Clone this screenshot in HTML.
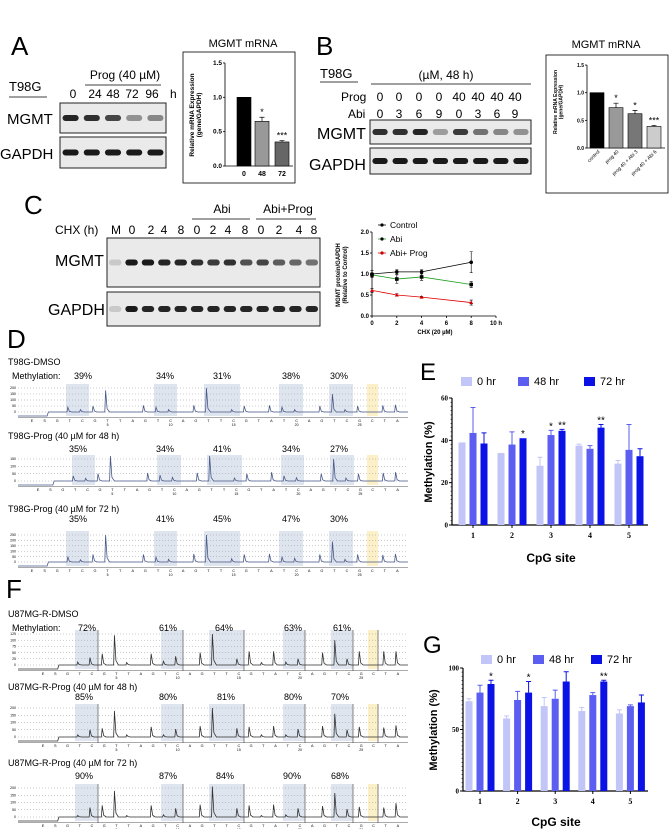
<!DOCTYPE html>
<html><head><meta charset="utf-8">
<style>
html,body{margin:0;padding:0;background:#fff;}
svg{display:block;font-family:"Liberation Sans",sans-serif;}
</style></head>
<body>
<svg id="fig" width="669" height="829" viewBox="0 0 669 829" xmlns="http://www.w3.org/2000/svg">
<!-- Panel A -->
<text x="11" y="55" font-size="26">A</text>
<text x="9" y="91" font-size="13">T98G</text>
<line x1="9" y1="97" x2="47" y2="97" stroke="#000" stroke-width="0.8"/>
<text x="125" y="79" font-size="12" text-anchor="middle">Prog (40 µM)</text>
<line x1="85" y1="85" x2="161" y2="85" stroke="#000" stroke-width="0.8"/>
<text x="73" y="98" font-size="12" text-anchor="middle">0</text>
<text x="95" y="98" font-size="12" text-anchor="middle">24</text>
<text x="113" y="98" font-size="12" text-anchor="middle">48</text>
<text x="132" y="98" font-size="12" text-anchor="middle">72</text>
<text x="152" y="98" font-size="12" text-anchor="middle">96</text>
<text x="170" y="98" font-size="12">h</text>
<text x="7" y="124" font-size="15">MGMT</text>
<text x="0" y="159" font-size="15">GAPDH</text>
<g id="blotA"></g>
<rect x="183" y="52" width="112" height="131" fill="none" stroke="#000" stroke-width="0.8"/>
<text x="243" y="47" font-size="11" text-anchor="middle">MGMT mRNA</text>
<text transform="translate(194,115) rotate(-90)" font-size="6.5" font-weight="bold" text-anchor="middle"><tspan x="0" dy="0">Relative mRNA Expression</tspan><tspan x="0" dy="7">(gene/GAPDH)</tspan></text>
<g id="chartA"></g>
<!-- Panel B -->
<text x="316" y="55" font-size="26">B</text>
<text x="320" y="78" font-size="13">T98G</text>
<line x1="320" y1="82" x2="358" y2="82" stroke="#000" stroke-width="0.8"/>
<text x="446" y="79" font-size="12" text-anchor="middle">(µM, 48 h)</text>
<line x1="371" y1="84" x2="531" y2="84" stroke="#000" stroke-width="0.8"/>
<text x="341" y="101" font-size="12">Prog</text>
<text x="348" y="118" font-size="12">Abi</text>
<g id="laneB"></g>
<text x="317" y="139" font-size="16">MGMT</text>
<text x="309" y="170" font-size="16">GAPDH</text>
<g id="blotB"></g>
<rect x="546" y="55" width="122" height="138" fill="none" stroke="#000" stroke-width="0.8"/>
<text x="606" y="48" font-size="11" text-anchor="middle">MGMT mRNA</text>
<text transform="translate(557,102) rotate(-90)" font-size="5" font-weight="bold" text-anchor="middle"><tspan x="0" dy="0">Relative mRNA Expression</tspan><tspan x="0" dy="5.5">(gene/GAPDH)</tspan></text>
<g id="chartB"></g>
<!-- Panel C -->
<text x="24" y="214" font-size="26">C</text>
<text x="222" y="213" font-size="12" text-anchor="middle">Abi</text>
<line x1="192" y1="219" x2="250" y2="219" stroke="#000" stroke-width="0.8"/>
<text x="288" y="213" font-size="12" text-anchor="middle">Abi+Prog</text>
<line x1="256" y1="219" x2="316" y2="219" stroke="#000" stroke-width="0.8"/>
<text x="55" y="234" font-size="12">CHX (h)</text>
<g id="laneC"></g>
<text x="55" y="266" font-size="16">MGMT</text>
<text x="48" y="315" font-size="16">GAPDH</text>
<g id="blotC"></g>
<g id="chartC"></g>
<text transform="translate(340,275) rotate(-90)" font-size="6" font-weight="bold" text-anchor="middle"><tspan x="0" dy="0">MGMT protein/GAPDH</tspan><tspan x="0" dy="7">(Relative to Control)</tspan></text>
<text x="435" y="334" font-size="6" font-weight="bold" text-anchor="middle">CHX (20 µM)</text>
<!-- Panel D / F -->
<text x="7" y="348" font-size="26">D</text>
<text x="6" y="598" font-size="26">F</text>
<g id="pyro"></g>
<!-- Panel E -->
<text x="420" y="380" font-size="24">E</text>
<g id="chartE"></g>
<text transform="translate(432,462) rotate(-90)" font-size="11" font-weight="bold" text-anchor="middle">Methylation (%)</text>
<text x="551" y="562" font-size="12" font-weight="bold" text-anchor="middle">CpG site</text>
<!-- Panel G -->
<text x="423" y="653" font-size="24">G</text>
<g id="chartG"></g>
<text transform="translate(437,730) rotate(-90)" font-size="11" font-weight="bold" text-anchor="middle">Methylation (%)</text>
<text x="556" y="826" font-size="12" font-weight="bold" text-anchor="middle">CpG site</text>
</svg>
<script>
// ---------- data ----------
var aCats = ['0','48','72'];
var aVals = [1.0, 0.65, 0.35];
var aErr = [0, 0.06, 0.02];
var aStars = ['', '*', '***'];
var aTicks = [0, 0.5, 1.0, 1.5];
var bCats = ['control','prog 40','prog 40 + Abi 3','prog 40 + Abi 6'];
var bVals = [1.0, 0.73, 0.62, 0.39];
var bErr = [0, 0.08, 0.06, 0.02];
var bStars = ['', '*', '*', '***'];
var bTicks = [0, 0.5, 1.0, 1.5];
var bProg = ['0','0','0','0','40','40','40','40'];
var bAbi = ['0','3','6','9','0','3','6','9'];
var cLanes = ['M','0','2','4','8','0','2','4','8','0','2','4','8'];
var cTimes = [0, 2, 4, 8];
var cControl = [1.0, 1.05, 1.05, 1.28];
var cControlErr = [0.08, 0.05, 0.05, 0.25];
var cAbi = [0.98, 0.88, 0.93, 0.75];
var cAbiErr = [0.05, 0.1, 0.08, 0.07];
var cAbiProg = [0.61, 0.5, 0.45, 0.32];
var cAbiProgErr = [0.05, 0.03, 0.02, 0.06];
var cXTicks = [0, 2, 4, 6, 8, 10];
var cYTicks = [0, 0.5, 1.0, 1.5, 2.0];
var eCats = ['1','2','3','4','5'];
var e0 = [39, 34, 28, 37.5, 29];
var e48 = [43.5, 38, 42.5, 36, 35.5];
var e72 = [38.5, 41, 44.5, 46, 32.5];
var e0Err = [0, 0, 4, 0.7, 1.5];
var e48Err = [12, 6, 2.2, 1.5, 12];
var e72Err = [5, 0, 0.7, 1.5, 3.5];
var eStars48 = ['', '', '*', '', ''];
var eStars72 = ['', '*', '**', '**', ''];
var eTicks = [0, 20, 40, 60];
var g0 = [73, 59, 69, 65, 63];
var g48 = [80, 74, 75, 78, 69];
var g72 = [87, 80, 89, 89, 72];
var g0Err = [2, 2, 7, 3, 3];
var g48Err = [6, 7, 7, 2, 1];
var g72Err = [3, 9, 8, 1, 6];
var gStars72 = ['*', '*', '', '**', ''];
var gTicks = [0, 50, 100];
var seq = ['E','S','G','T','C','G','T','T','A','G','T','C','A','G','T','T','C','G','T','A','T','C','A','G','T','C','G','C','T','A'];
var hD1 = [0,0,0,40,20,50,180,0,0,55,40,20,0,55,200,0,20,50,0,55,40,20,0,50,150,20,50,0,55,60];
var hD2 = [0,0,0,35,18,50,170,0,0,55,40,25,0,55,170,0,20,50,0,60,35,22,0,50,150,20,50,0,55,60];
var hD3 = [0,0,0,50,20,70,250,0,0,70,45,25,0,75,250,0,30,70,0,75,45,35,0,70,190,25,70,0,65,75];
var hF1 = [0,0,0,12,30,45,120,10,0,45,15,35,0,50,125,0,25,55,10,55,12,25,0,50,100,25,55,0,55,55];
var hF2 = [0,0,0,15,50,60,180,15,0,70,15,55,0,75,200,0,60,70,15,75,15,55,0,75,160,50,70,0,65,80];
var hF3 = [0,0,0,10,65,80,180,10,0,80,15,60,0,85,210,0,60,80,10,85,15,60,0,75,165,55,70,0,65,95];
var pD1 = ['39%','34%','31%','38%','30%'];
var pD2 = ['35%','34%','41%','34%','27%'];
var pD3 = ['35%','41%','45%','47%','30%'];
var pF1 = ['72%','61%','64%','63%','61%'];
var pF2 = ['85%','80%','81%','80%','70%'];
var pF3 = ['90%','87%','84%','90%','68%'];

var NS = 'http://www.w3.org/2000/svg';
function mk(parent, tag, attrs, txt) {
  var el = document.createElementNS(NS, tag);
  for (var k in attrs) el.setAttribute(k, attrs[k]);
  if (txt !== undefined) el.textContent = txt;
  parent.appendChild(el);
  return el;
}
function G(id) { return document.getElementById(id); }

// ---------- blots ----------
function blot(g, x, y, w, h, n, intens, nameBase) {
  var r = mk(g, 'rect', {x: x, y: y, width: w, height: h, fill: '#eaeaea', stroke: '#222', 'stroke-width': 1});
  
  
  var step = w / n;
  for (var i = 0; i < n; i++) {
    if (intens[i] <= 0) continue;
    var b = mk(g, 'rect', {x: x + step * i + step * 0.12, y: y + h / 2 - 3, width: step * 0.76, height: 6, rx: 3,
      fill: 'rgba(15,15,15,' + intens[i] + ')'});
    
    
  }
}
blot(G('blotA'), 60, 103, 106, 30, 5, [0.9, 0.85, 0.75, 0.4, 0.45], 'a-mgmt');
blot(G('blotA'), 60, 137, 106, 31, 5, [0.95, 0.95, 0.95, 0.95, 0.95], 'a-gapdh');
blot(G('blotB'), 370, 120, 161, 24, 8, [0.85, 0.85, 0.9, 0.35, 0.8, 0.55, 0.45, 0.4], 'b-mgmt');
blot(G('blotB'), 370, 148, 161, 26, 8, [0.95, 0.95, 0.95, 0.95, 0.95, 0.95, 0.95, 0.95], 'b-gapdh');
blot(G('blotC'), 107, 238, 213, 49, 13, [0.15, 0.95, 0.95, 0.9, 0.9, 0.85, 0.8, 0.85, 0.7, 0.75, 0.65, 0.6, 0.55], 'c-mgmt');
blot(G('blotC'), 107, 292, 213, 34, 13, [0.15, 0.95, 0.9, 0.9, 0.9, 0.9, 0.9, 0.9, 0.9, 0.9, 0.9, 0.9, 0.9], 'c-gapdh');

var lbx = [380, 399, 419, 439, 459, 478, 497, 515];
for (var i = 0; i < bProg.length; i++) {
  var t1 = mk(G('laneB'), 'text', {x: lbx[i], y: 101, 'font-size': 12, 'text-anchor': 'middle'}, bProg[i]);
  
  
  var t2 = mk(G('laneB'), 'text', {x: lbx[i], y: 118, 'font-size': 12, 'text-anchor': 'middle'}, bAbi[i]);
  
  
}
var lcx = [116, 132, 151, 164, 181, 197, 213, 228, 245, 261, 279, 299, 314];
for (var i = 0; i < cLanes.length; i++) {
  var t = mk(G('laneC'), 'text', {x: lcx[i], y: 234, 'font-size': 12, 'text-anchor': 'middle'}, cLanes[i]);
  
  
}

// ---------- small bar charts A / B ----------
function smallBar(g, ax, y0, ppu, xs, bw, vals, errs, stars, ticks, cols, cats, rotate, tickFs) {
  var top = y0 - ticks[ticks.length - 1] * ppu;
  var a = mk(g, 'path', {d: 'M' + ax + ' ' + top + 'V' + y0 + 'H' + (xs[xs.length - 1] + bw + 4), stroke: '#000', fill: 'none', 'stroke-width': 0.8});
  
  
  for (var i = 0; i < ticks.length; i++) {
    var ty = y0 - ticks[i] * ppu;
    var tl = mk(g, 'line', {x1: ax - 2, x2: ax, y1: ty, y2: ty, stroke: '#000', 'stroke-width': 0.8});
    
    
    var tt = mk(g, 'text', {x: ax - 3, y: ty + 2, 'font-size': tickFs, 'text-anchor': 'end', 'font-weight': 'bold'}, ticks[i].toFixed(1));
    
    
  }
  for (var i = 0; i < vals.length; i++) {
    var by = y0 - vals[i] * ppu;
    var r = mk(g, 'rect', {x: xs[i], y: by, width: bw, height: vals[i] * ppu, fill: cols[i], stroke: '#000', 'stroke-width': 0.6});
    
    
    if (errs[i] > 0) {
      var cx = xs[i] + bw / 2, ey = y0 - (vals[i] + errs[i]) * ppu;
      var e = mk(g, 'path', {d: 'M' + cx + ' ' + by + 'V' + ey + 'M' + (cx - 2.5) + ' ' + ey + 'H' + (cx + 2.5), stroke: '#000', 'stroke-width': 0.7});
      
      
    }
    if (stars[i]) {
      var s = mk(g, 'text', {x: xs[i] + bw / 2, y: y0 - (vals[i] + errs[i]) * ppu - 2, 'font-size': 9, 'text-anchor': 'middle'}, stars[i]);
      
      
    }
    var lx = xs[i] + bw / 2;
    var lab;
    if (rotate) {
      lab = mk(g, 'text', {transform: 'translate(' + (lx + 3) + ',' + (y0 + 4) + ') rotate(-45)', 'font-size': 5, 'text-anchor': 'end'}, cats[i]);
    } else {
      lab = mk(g, 'text', {x: lx, y: y0 + 10, 'font-size': 7, 'text-anchor': 'middle', 'font-weight': 'bold'}, cats[i]);
    }
    
    
  }
}
smallBar(G('chartA'), 225, 166, 68.7, [237, 255, 275], 14, aVals, aErr, aStars, aTicks, ['#000', '#999', '#666'], aCats, false, 6.5);
smallBar(G('chartB'), 587, 148, 55.3, [590, 609, 628, 647], 14, bVals, bErr, bStars, bTicks, ['#000', '#999', '#777', '#ccc'], bCats, true, 5);

// ---------- line chart C ----------
(function () {
  var g = G('chartC');
  function X(t) { return 372 + t * 12.4; }
  function Y(v) { return 316 - v * 42; }
  var ax = mk(g, 'path', {d: 'M372 ' + Y(2) + 'V316H' + X(10), stroke: '#000', fill: 'none', 'stroke-width': 0.8});
  
  
  for (var i = 0; i < cXTicks.length; i++) {
    var l = mk(g, 'line', {x1: X(cXTicks[i]), x2: X(cXTicks[i]), y1: 316, y2: 318, stroke: '#000', 'stroke-width': 0.8});
    
    
    var t = mk(g, 'text', {x: X(cXTicks[i]), y: 325, 'font-size': 6, 'font-weight': 'bold', 'text-anchor': 'middle'}, cXTicks[i] + (cXTicks[i] === 10 ? ' h' : ''));
    
    
  }
  for (var i = 0; i < cYTicks.length; i++) {
    var l = mk(g, 'line', {x1: 370, x2: 372, y1: Y(cYTicks[i]), y2: Y(cYTicks[i]), stroke: '#000', 'stroke-width': 0.8});
    
    
    var t = mk(g, 'text', {x: 369, y: Y(cYTicks[i]) + 2, 'font-size': 6, 'font-weight': 'bold', 'text-anchor': 'end'}, cYTicks[i].toFixed(1));
    
    
  }
  var series = [[cControl, cControlErr, '#000', 'circle', 'Control'], [cAbi, cAbiErr, '#1a9e1a', 'square', 'Abi'], [cAbiProg, cAbiProgErr, '#d00', 'triangle', 'Abi+ Prog']];
  series.forEach(function (s, si) {
    var d = '';
    for (var i = 0; i < cTimes.length; i++) d += (i ? 'L' : 'M') + X(cTimes[i]) + ' ' + Y(s[0][i]);
    var p = mk(g, 'path', {d: d, stroke: s[2], fill: 'none', 'stroke-width': 0.8});
    
    
    for (var i = 0; i < cTimes.length; i++) {
      var cx = X(cTimes[i]), cy = Y(s[0][i]), e = s[1][i] * 42;
      var eb = mk(g, 'path', {d: 'M' + cx + ' ' + (cy - e) + 'V' + (cy + e) + 'M' + (cx - 1.5) + ' ' + (cy - e) + 'H' + (cx + 1.5) + 'M' + (cx - 1.5) + ' ' + (cy + e) + 'H' + (cx + 1.5), stroke: '#000', 'stroke-width': 0.6});
      
      
      var m;
      if (s[3] === 'circle') m = mk(g, 'circle', {cx: cx, cy: cy, r: 1.8, fill: '#000'});
      else if (s[3] === 'square') m = mk(g, 'rect', {x: cx - 1.8, y: cy - 1.8, width: 3.6, height: 3.6, fill: '#000'});
      else m = mk(g, 'path', {d: 'M' + cx + ' ' + (cy - 2) + 'L' + (cx + 2) + ' ' + (cy + 1.5) + 'L' + (cx - 2) + ' ' + (cy + 1.5) + 'Z', fill: '#c00'});
      
      
    }
    var ly = 225 + si * 14;
    var ll = mk(g, 'line', {x1: 378, x2: 386, y1: ly, y2: ly, stroke: s[2], 'stroke-width': 0.8});
    
    
    var lm = mk(g, 'circle', {cx: 382, cy: ly, r: 1.6, fill: si === 2 ? '#c00' : '#000'});
    
    
    var lt = mk(g, 'text', {x: 390, y: ly + 3, 'font-size': 8.5}, s[4]);
    
    
  });
})();

// ---------- grouped bar charts E / G ----------
function grouped(g, ax, y0, ppu, xEnd, cx0, cstep, off, bw, sets, errs, ticks, stars, legendY, legendX) {
  var cols = ['#c2c5f7', '#5b5ef0', '#0b12e6'];
  var names = ['0 hr', '48 hr', '72 hr'];
  var top = y0 - ticks[ticks.length - 1] * ppu;
  var a = mk(g, 'path', {d: 'M' + ax + ' ' + top + 'V' + y0 + 'H' + xEnd, stroke: '#000', fill: 'none', 'stroke-width': 1.2});
  
  
  var tmax = ticks[ticks.length - 1];
  for (var v = 0; v <= tmax; v += tmax / 30) {
    var mt = mk(g, 'line', {x1: ax - 1.5, x2: ax, y1: y0 - v * ppu, y2: y0 - v * ppu, stroke: '#000', 'stroke-width': 0.6});
    
    
  }
  for (var i = 0; i < ticks.length; i++) {
    var ty = y0 - ticks[i] * ppu;
    var tl = mk(g, 'line', {x1: ax - 3, x2: ax, y1: ty, y2: ty, stroke: '#000', 'stroke-width': 1});
    
    
    var tt = mk(g, 'text', {x: ax - 4, y: ty + 2.5, 'font-size': 7, 'font-weight': 'bold', 'text-anchor': 'end', 'font-family': 'Liberation Serif, serif'}, ticks[i]);
    
    
  }
  for (var c = 0; c < eCats.length; c++) {
    var cx = cx0 + c * cstep;
    var xt = mk(g, 'line', {x1: cx, x2: cx, y1: y0, y2: y0 + 3, stroke: '#000', 'stroke-width': 1});
    
    
    var xl = mk(g, 'text', {x: cx, y: y0 + 13, 'font-size': 8, 'font-weight': 'bold', 'text-anchor': 'middle', 'font-family': 'Liberation Serif, serif'}, eCats[c]);
    
    
    for (var s = 0; s < 3; s++) {
      var bx = cx + (s - 1) * off - bw / 2, v = sets[s][c], by = y0 - v * ppu;
      var r = mk(g, 'rect', {x: bx, y: by, width: bw, height: v * ppu, fill: cols[s]});
      
      
      var e = errs[s][c];
      if (e > 0) {
        var ex = bx + bw / 2, ey = y0 - (v + e) * ppu;
        var eb = mk(g, 'path', {d: 'M' + ex + ' ' + by + 'V' + ey + 'M' + (ex - 2.5) + ' ' + ey + 'H' + (ex + 2.5), stroke: cols[s], 'stroke-width': 1});
        
        
      }
      if (stars[s] && stars[s][c]) {
        var st = mk(g, 'text', {x: bx + bw / 2, y: y0 - (v + e) * ppu - 1, 'font-size': 10, 'text-anchor': 'middle'}, stars[s][c]);
        
        
      }
    }
  }
  for (var s = 0; s < 3; s++) {
    var lx = legendX[s];
    var sw = mk(g, 'rect', {x: lx, y: legendY - 8, width: 11, height: 9, fill: cols[s]});
    
    
    var lt = mk(g, 'text', {x: lx + 16, y: legendY, 'font-size': 11}, names[s]);
    
    
  }
}
grouped(G('chartE'), 452, 525, 127 / 60, 648, 473, 39, 11, 7, [e0, e48, e72], [e0Err, e48Err, e72Err], eTicks, [null, eStars48, eStars72], 385, [461, 518, 584]);
grouped(G('chartG'), 463, 791, 123 / 100, 648, 480, 37.6, 11, 7, [g0, g48, g72], [g0Err, g48Err, g72Err], gTicks, [null, null, gStars72], 663, [481, 533, 591]);

// ---------- pyrograms ----------
function pyroRow(cfg) {
  var g = G('pyro');
  var t = mk(g, 'text', {x: 8, y: cfg.titleY, 'font-size': 9}, cfg.title);
  
  
  if (cfg.meth) {
    var m = mk(g, 'text', {x: 12, y: cfg.pctY, 'font-size': 9}, 'Methylation:');
    
    
  }
  cfg.shade.forEach(function (s, i) {
    var r = mk(g, 'rect', {x: s[0], y: cfg.topY - 4, width: s[1] - s[0], height: cfg.zeroY - cfg.topY + 8, fill: i === 5 ? '#fbf0c8' : '#dfe5ef'});
    
    
    if (cfg.bars) {
      var vl = mk(g, 'line', {x1: s[1], x2: s[1], y1: cfg.topY - 4, y2: cfg.zeroY + 6, stroke: '#666', 'stroke-width': 0.8});
      
      
    }
  });
  cfg.pcts.forEach(function (p, i) {
    var pt = mk(g, 'text', {x: cfg.pctX[i], y: cfg.pctY, 'font-size': 9, 'text-anchor': 'middle'}, p);
    
    
  });
  var ppu = (cfg.zeroY - cfg.topY) / cfg.max;
  for (var k = 0; k <= cfg.max; k += cfg.step) {
    var gy = cfg.zeroY - k * ppu;
    var gl = mk(g, 'line', {x1: 18, x2: 408, y1: gy, y2: gy, stroke: '#999', 'stroke-width': 0.5, 'stroke-dasharray': '1,2'});
    
    
    var gt = mk(g, 'text', {x: 16, y: gy + 1.2, 'font-size': 3.5, 'text-anchor': 'end'}, k);
    
    
  }
  var base = cfg.zeroY, low = cfg.zeroY + 4;
  var d = 'M18 ' + low + 'H' + (cfg.x0 + cfg.dx * 1.2) + 'L' + (cfg.x0 + cfg.dx * 1.3) + ' ' + base;
  for (var i = 2; i < seq.length; i++) {
    var px = cfg.x0 + i * cfg.dx - 2, h = cfg.h[i] * ppu;
    d += 'H' + (px - 0.8) + 'L' + px + ' ' + (base - h) + 'L' + (px + 1.5) + ' ' + (base - h * 0.15) + 'L' + (px + 4) + ' ' + base;
  }
  d += 'H408';
  var tr = mk(g, 'path', {d: d, stroke: cfg.color, fill: 'none', 'stroke-width': 0.8});
  
  
  var xa = mk(g, 'line', {x1: 18, x2: 408, y1: low + 1.5, y2: low + 1.5, stroke: '#555', 'stroke-width': 0.5});
  
  
  for (var i = 0; i < seq.length; i++) {
    var lx = cfg.x0 + i * cfg.dx;
    var lt = mk(g, 'text', {x: lx, y: low + 6, 'font-size': 3.8, 'text-anchor': 'middle'}, seq[i]);
    
    
    if (i > 1 && (i - 1) % 5 === 0) {
      var nt = mk(g, 'text', {x: lx, y: low + 10, 'font-size': 3.5, 'text-anchor': 'middle'}, (i - 1));
      
      
    }
  }
}
var shD = [[66, 89], [154, 177], [204, 240], [279, 303], [329, 353], [367, 378]];
var shF = [[75, 98], [161, 183], [209, 244], [283, 305], [331, 353], [368, 378]];
pyroRow({title: 'T98G-DMSO', titleY: 365, meth: true, pctY: 379, pctX: [83, 165, 222, 291, 339], pcts: pD1, topY: 388, zeroY: 412, max: 200, step: 50, h: hD1, x0: 32, dx: 12.6, shade: shD, color: '#4a5a8a'});
pyroRow({title: 'T98G-Prog (40 µM for 48 h)', titleY: 439, pctY: 452, pctX: [78, 165, 222, 291, 339], pcts: pD2, topY: 459, zeroY: 481, max: 150, step: 50, h: hD2, x0: 38, dx: 12.4, shade: [[72, 95], [157, 181], [207, 242], [281, 304], [330, 354], [367, 378]], color: '#4a5a8a'});
pyroRow({title: 'T98G-Prog (40 µM for 72 h)', titleY: 512, pctY: 522, pctX: [78, 165, 222, 291, 339], pcts: pD3, topY: 535, zeroY: 562, max: 250, step: 50, h: hD3, x0: 32, dx: 12.6, shade: shD, color: '#4a5a8a'});
pyroRow({title: 'U87MG-R-DMSO', titleY: 617, meth: true, pctY: 631, pctX: [87, 168, 224, 293, 342], pcts: pF1, topY: 634, zeroY: 665, max: 125, step: 25, h: hF1, x0: 43, dx: 12.24, shade: shF, color: '#333', bars: true});
pyroRow({title: 'U87MG-R-Prog (40 µM for 48 h)', titleY: 690, pctY: 700, pctX: [84, 168, 226, 293, 340], pcts: pF2, topY: 708, zeroY: 737, max: 200, step: 50, h: hF2, x0: 43, dx: 12.24, shade: shF, color: '#333', bars: true});
pyroRow({title: 'U87MG-R-Prog (40 µM for 72 h)', titleY: 766, pctY: 779, pctX: [84, 168, 225, 292, 340], pcts: pF3, topY: 788, zeroY: 817, max: 200, step: 50, h: hF3, x0: 43, dx: 12.24, shade: shF, color: '#333', bars: true});
</script>
</body></html>
